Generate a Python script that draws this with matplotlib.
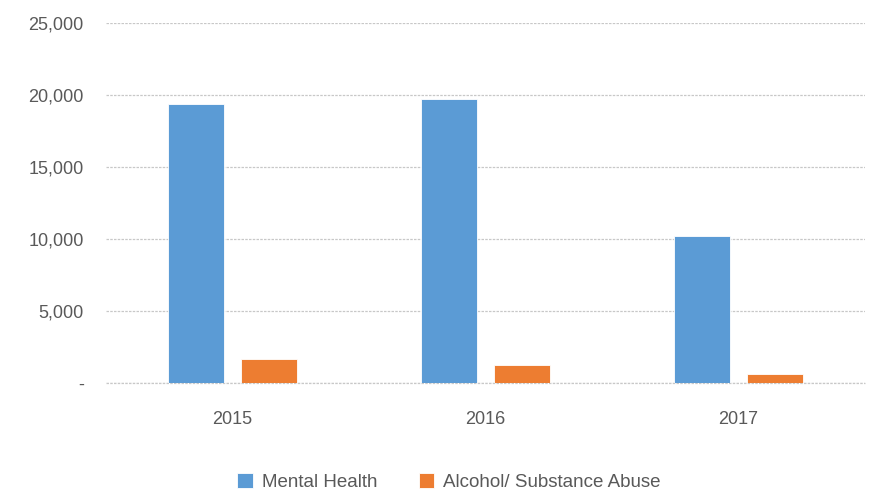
import matplotlib.pyplot as plt
import numpy as np

years = ["2015", "2016", "2017"]
mental = [19400, 19700, 10200]
alcohol = [1650, 1270, 640]
yticks = [0, 5000, 10000, 15000, 20000, 25000]
ytick_labels = ["-", "5,000", "10,000", "15,000", "20,000", "25,000"]

plt.rcParams['font.family'] = ['Liberation Sans Narrow', 'Liberation Sans', 'DejaVu Sans']
grey = '#595959'

fig = plt.figure(figsize=(8.69, 4.95), dpi=100)
ax = fig.add_axes([0.122, 0.2263, 0.873, 0.7272])

x = np.arange(len(years))
w = 0.221
off = 0.144
ax.bar(x - off, mental, w, color='#5B9BD5', edgecolor='white', linewidth=0.6, label='Mental Health', zorder=3)
ax.bar(x + off, alcohol, w, color='#ED7D31', edgecolor='white', linewidth=0.6, label='Alcohol/ Substance Abuse', zorder=3)

ax.set_xlim(-0.5, 2.5)
ax.set_ylim(0, 25000)
ax.set_yticks(yticks)
ax.set_yticklabels(ytick_labels)
ax.set_xticks(x)
ax.set_xticklabels(years)
ax.yaxis.grid(True, color='#C8C8C8', linestyle=(0, (2, 1)), linewidth=0.9, zorder=0)
ax.axhline(0, color='#C8C8C8', linestyle=(0, (2, 1)), linewidth=0.9, zorder=2, clip_on=False)
ax.tick_params(axis='both', length=0, colors=grey, labelsize=13)
ax.tick_params(axis='y', pad=16)
ax.tick_params(axis='x', pad=20)
for s in ax.spines.values():
    s.set_visible(False)

ax.legend(loc='center', bbox_to_anchor=(0.452, -0.275), ncol=2, frameon=False,
          fontsize=13.5, labelcolor=grey, handlelength=0.85, handleheight=0.85,
          handletextpad=0.45, columnspacing=2.2)

fig.savefig('out.png', dpi=100)
